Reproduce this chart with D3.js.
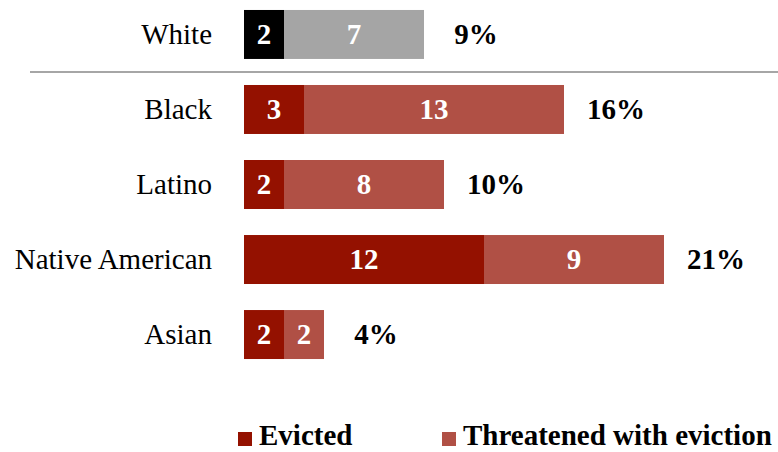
<!DOCTYPE html>
<html>
<head>
<meta charset="utf-8">
<script src="https://cdn.jsdelivr.net/npm/d3@7"></script>
<style>
  html, body { margin: 0; padding: 0; background: #fff; }
  svg { display: block; font-family: "Liberation Serif", "Times New Roman", serif; }
</style>
</head>
<body>
<svg id="chart" width="778" height="452"></svg>
<script>
// Eviction rates by race (percent of renters)
const categories = ["White", "Black", "Latino", "Native American", "Asian"];
const evicted = [2, 3, 2, 12, 2];
const threatened = [7, 13, 8, 9, 2];
const seriesNames = ["Evicted", "Threatened with eviction"];

const colors = {
  evicted: "#941100",
  threatened: "#b05045",
  baseEvicted: "#000000",
  baseThreatened: "#a5a5a5"
};

const svg = d3.select("#chart");
const fontSize = 29;

const y = d3.scaleBand()
  .domain(categories)
  .range([-3, 372])
  .paddingInner(0.347)
  .paddingOuter(0.173);

const x = d3.scaleLinear().domain([0, 21]).range([244, 664]);

const rows = categories.map((c, i) => ({
  cat: c,
  ev: evicted[i],
  th: threatened[i],
  total: evicted[i] + threatened[i],
  base: i === 0
}));

// separator between the reference group and the others
const sepY = (y(categories[0]) + y.bandwidth() + y(categories[1])) / 2;
svg.append("line")
  .attr("x1", 30).attr("x2", 778)
  .attr("y1", sepY).attr("y2", sepY)
  .attr("stroke", "#a6a6a6").attr("stroke-width", 2);

const g = svg.selectAll("g.row").data(rows).enter().append("g").attr("class", "row");

// evicted segment
g.append("rect")
  .attr("x", x(0))
  .attr("y", d => y(d.cat))
  .attr("width", d => x(d.ev) - x(0))
  .attr("height", y.bandwidth())
  .attr("fill", d => d.base ? colors.baseEvicted : colors.evicted);

// threatened segment
g.append("rect")
  .attr("x", d => x(d.ev))
  .attr("y", d => y(d.cat))
  .attr("width", d => x(d.ev + d.th) - x(d.ev))
  .attr("height", y.bandwidth())
  .attr("fill", d => d.base ? colors.baseThreatened : colors.threatened);

const mid = d => y(d.cat) + y.bandwidth() / 2;

// value labels inside segments
g.append("text")
  .attr("x", d => (x(0) + x(d.ev)) / 2)
  .attr("y", mid)
  .attr("dy", "0.34em")
  .attr("text-anchor", "middle")
  .attr("font-weight", "bold")
  .attr("font-size", fontSize)
  .attr("fill", "#fff")
  .text(d => d.ev);

g.append("text")
  .attr("x", d => (x(d.ev) + x(d.ev + d.th)) / 2)
  .attr("y", mid)
  .attr("dy", "0.34em")
  .attr("text-anchor", "middle")
  .attr("font-weight", "bold")
  .attr("font-size", fontSize)
  .attr("fill", "#fff")
  .text(d => d.th);

// totals
g.append("text")
  .attr("x", d => x(d.total) + 52)
  .attr("y", mid)
  .attr("dy", "0.34em")
  .attr("text-anchor", "middle")
  .attr("font-weight", "bold")
  .attr("font-size", fontSize)
  .attr("fill", "#000")
  .text(d => d.total + "%");

// category labels
g.append("text")
  .attr("x", 212)
  .attr("y", mid)
  .attr("dy", "0.34em")
  .attr("text-anchor", "end")
  .attr("font-size", fontSize)
  .attr("fill", "#000")
  .text(d => d.cat);

// legend
const legendItems = [
  { name: seriesNames[0], color: colors.evicted, x: 238 },
  { name: seriesNames[1], color: colors.threatened, x: 442 }
];
const lg = svg.selectAll("g.legend").data(legendItems).enter().append("g").attr("class", "legend");
lg.append("rect")
  .attr("x", d => d.x).attr("y", 432)
  .attr("width", 14).attr("height", 14)
  .attr("fill", d => d.color);
lg.append("text")
  .attr("x", d => d.x + 21)
  .attr("y", 445)
  .attr("font-weight", "bold")
  .attr("font-size", fontSize)
  .attr("fill", "#000")
  .text(d => d.name);
</script>
</body>
</html>
